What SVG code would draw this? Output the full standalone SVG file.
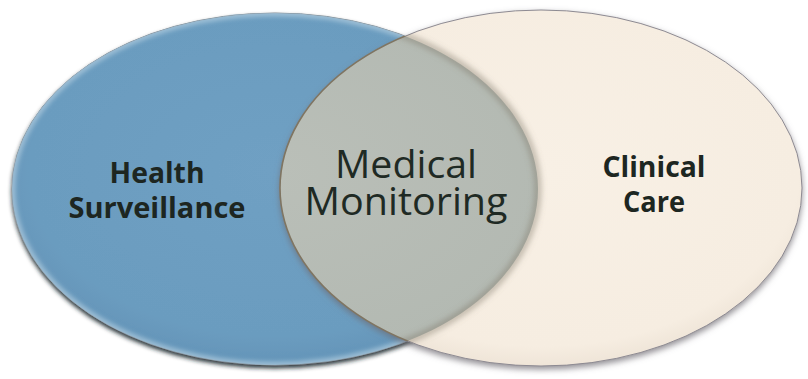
<svg xmlns="http://www.w3.org/2000/svg" width="808" height="379" viewBox="0 0 808 379">
<style>
  .lbl-b { font-family: "Open Sans", "Liberation Sans", sans-serif; font-weight: 700; font-size: 29px; fill: #1d2621; text-anchor: middle; }
  .lbl-r { font-family: "Open Sans", "Liberation Sans", sans-serif; font-weight: 400; font-size: 39px; fill: #1f2a24; text-anchor: middle; }
</style>
<defs>
  <radialGradient id="blueGrad" cx="0.5" cy="0.45" r="0.55">
    <stop offset="0" stop-color="#6fa0c3"/>
    <stop offset="0.85" stop-color="#6b9cbf"/>
    <stop offset="1" stop-color="#6394b8"/>
  </radialGradient>
  <radialGradient id="creamGrad" cx="0.5" cy="0.45" r="0.55">
    <stop offset="0" stop-color="#f8f0e5"/>
    <stop offset="0.9" stop-color="#f6ede1"/>
    <stop offset="1" stop-color="#efe5d8"/>
  </radialGradient>
  <radialGradient id="grayGrad" cx="0.5" cy="0.45" r="0.55">
    <stop offset="0" stop-color="#babfb8"/>
    <stop offset="1" stop-color="#b3b9b2"/>
  </radialGradient>
  <filter id="shadowBlue" x="-10%" y="-10%" width="120%" height="125%">
    <feDropShadow dx="0" dy="3" stdDeviation="2" flood-color="#14222a" flood-opacity="0.9"/>
  </filter>
  <filter id="shadowCream" x="-10%" y="-10%" width="120%" height="125%">
    <feDropShadow dx="0" dy="3" stdDeviation="3" flood-color="#6e6a72" flood-opacity="0.75"/>
  </filter>
  <filter id="soft" x="-10%" y="-10%" width="120%" height="120%">
    <feGaussianBlur stdDeviation="3"/>
  </filter>
  <filter id="softer" x="-10%" y="-10%" width="120%" height="120%">
    <feGaussianBlur stdDeviation="2"/>
  </filter>
  <clipPath id="clipCream">
    <ellipse cx="541" cy="188" rx="261" ry="178"/>
  </clipPath>
  <clipPath id="clipBlue">
    <ellipse cx="275" cy="189" rx="263" ry="176"/>
  </clipPath>
</defs>
<rect x="0" y="0" width="808" height="379" fill="#ffffff"/>

<g id="health-surveillance">
  <ellipse cx="275" cy="189" rx="263" ry="176" fill="url(#blueGrad)" stroke="#7f8c96" stroke-width="1" filter="url(#shadowBlue)"/>
  <g clip-path="url(#clipBlue)">
    <ellipse cx="275" cy="189" rx="263" ry="176" fill="none" stroke="#a8c6db" stroke-width="7" stroke-opacity="0.8" filter="url(#softer)"/>
  </g>
  <text class="lbl-b"><tspan x="157" y="183" textLength="95" lengthAdjust="spacingAndGlyphs">Health</tspan><tspan x="157" y="218" textLength="177" lengthAdjust="spacingAndGlyphs">Surveillance</tspan></text>
</g>

<g id="clinical-care">
  <ellipse cx="541" cy="188" rx="261" ry="178" fill="url(#creamGrad)" stroke="#8d8a92" stroke-width="1" filter="url(#shadowCream)"/>
  <text class="lbl-b"><tspan x="654" y="177" textLength="103" lengthAdjust="spacingAndGlyphs">Clinical</tspan><tspan x="654" y="212" textLength="62" lengthAdjust="spacingAndGlyphs">Care</tspan></text>
</g>

<g id="medical-monitoring">
  <g clip-path="url(#clipCream)">
    <ellipse cx="275" cy="189" rx="263" ry="176" fill="url(#grayGrad)"/>
    <ellipse cx="275" cy="189" rx="263" ry="176" fill="none" stroke="#7d7565" stroke-width="5" stroke-opacity="0.6" filter="url(#soft)"/>
  </g>
  <g clip-path="url(#clipBlue)">
    <ellipse cx="541" cy="188" rx="261" ry="178" fill="none" stroke="#7f7562" stroke-width="1.6"/>
  </g>
  <text class="lbl-r"><tspan x="406" y="178" textLength="142" lengthAdjust="spacingAndGlyphs">Medical</tspan><tspan x="406" y="215" textLength="203" lengthAdjust="spacingAndGlyphs">Monitoring</tspan></text>
</g>

<g id="connectors"/>
</svg>
